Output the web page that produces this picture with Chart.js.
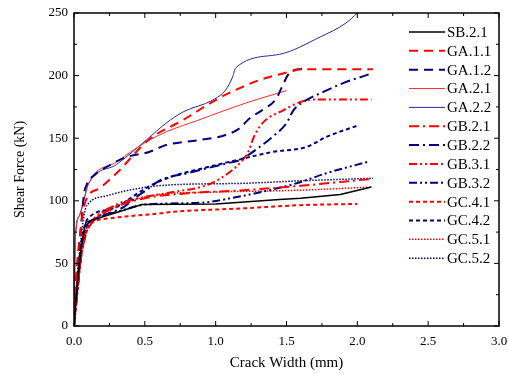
<!DOCTYPE html>
<html>
<head>
<meta charset="utf-8">
<script src="https://cdn.jsdelivr.net/npm/chart.js@4"></script>
<style>
  html, body { margin: 0; padding: 0; background: #fff; }
  #wrap { width: 508px; height: 374px; }
</style>
</head>
<body>
<div id="wrap"><canvas id="chart"></canvas></div>
<script>
// crack width (mm) vs shear force (kN)
const sb21 = [[0,0],[0.01,15],[0.03,40],[0.05,62],[0.07,76],[0.085,83],[0.48,97],[1.0,97.5],[1.45,101],[1.6,102],[1.88,105],[2.1,111]];
const ga11 = [[0,0],[0.01,30],[0.03,60],[0.05,80],[0.07,95],[0.1,104],[0.18,110],[0.3,122],[0.53,149],[0.77,164.5],[1.0,180.5],[1.17,190],[1.31,196.5],[1.52,203],[1.6,205],[2.11,205]];
const ga12 = [[0,0],[0.01,25],[0.03,55],[0.05,80],[0.07,105],[0.09,113],[0.15,121],[0.23,127],[0.37,135],[0.53,139],[0.65,144.5],[0.88,148.5],[1.07,152.5],[1.17,158],[1.24,166],[1.33,172.5],[1.43,182],[1.48,194],[1.52,202],[1.58,205],[1.65,205.5]];
const ga21 = [[0,0],[0.005,40],[0.01,70],[0.04,88],[0.07,100],[0.1,113],[0.3,131],[0.51,147],[0.65,155],[0.88,164.5],[1.21,178],[1.5,188]];
const ga22 = [[0,0],[0.005,42],[0.01,72],[0.04,89],[0.07,101],[0.1,113],[0.3,129],[0.51,148.5],[0.65,162],[0.77,171],[0.98,180.5],[1.07,188.5],[1.12,199],[1.14,206],[1.45,217],[1.74,231],[1.92,242],[2.0,250]];
const gb21 = [[0,0],[0.02,25],[0.05,55],[0.08,72],[0.1,78],[0.3,95],[0.5,102],[0.8,106],[1.2,108.5],[1.6,112],[2.1,117.5]];
const gb22 = [[0,0],[0.02,30],[0.05,60],[0.08,78],[0.1,82],[0.2,88],[0.35,95],[0.44,103],[0.51,108.5],[0.61,116.5],[0.8,122],[1.08,130],[1.17,132.5],[1.31,143],[1.4,151],[1.5,162],[1.55,172.5],[1.62,179],[1.76,187],[1.9,194],[2.08,201]];
const gb31 = [[0,0],[0.02,25],[0.05,58],[0.08,75],[0.1,80],[0.3,97],[0.5,103],[0.7,107],[0.95,113],[1.1,123],[1.17,130],[1.23,139],[1.27,151],[1.33,162],[1.48,172.5],[1.6,179],[1.71,181],[2.1,181]];
const gb32 = [[0,0],[0.02,22],[0.05,55],[0.08,72],[0.1,80],[0.3,91],[0.5,97],[0.9,98.5],[1.15,103],[1.38,108.5],[1.6,115],[1.78,122],[2.07,131]];
const gc41 = [[0,0],[0.02,25],[0.05,55],[0.08,75],[0.1,80],[0.15,84],[0.25,86],[0.61,90],[0.68,91],[1.2,94],[1.6,96.5],[2.0,97.5]];
const gc42 = [[0,0],[0.02,30],[0.05,65],[0.08,82],[0.1,86],[0.3,95],[0.45,106],[0.52,111],[0.68,119],[0.91,126],[1.15,132.5],[1.4,139],[1.64,143],[1.78,151],[2.0,160]];
const gc51 = [[0,0],[0.02,25],[0.05,55],[0.08,72],[0.1,78],[0.2,90],[0.4,100],[0.6,105],[1.0,107],[1.6,108.5],[2.1,111]];
const gc52 = [[0,0],[0.02,35],[0.05,70],[0.07,88],[0.09,96],[0.23,104],[0.41,109],[0.65,112.5],[1.21,114],[1.6,116],[2.11,118]];

const xTicks = [0, 0.5, 1.0, 1.5, 2.0, 2.5, 3.0];
const yTicks = [0, 50, 100, 150, 200, 250];

const RED = "#ff0000";
const NAVY = "#000080";
const serif = "'Liberation Serif', 'Times New Roman', serif";

function pts(arr) {
  return arr.map(function (p) { return { x: p[0], y: p[1] }; });
}

function series(label, data, color, width, dash, smooth) {
  return {
    label: label,
    data: pts(data),
    borderColor: color,
    backgroundColor: color,
    borderWidth: width,
    borderDash: dash,
    pointRadius: 0,
    fill: false,
    cubicInterpolationMode: smooth ? "monotone" : "default",
    tension: 0,
  };
}

const datasets = [
  series("SB.2.1", sb21, "#000000", 1.5, [], false),
  series("GA.1.1", ga11, RED, 2, [9, 6], true),
  series("GA.1.2", ga12, NAVY, 2, [9, 6], true),
  series("GA.2.1", ga21, "#ff2a2a", 1, [], true),
  series("GA.2.2", ga22, "#2626a6", 1, [], true),
  series("GB.2.1", gb21, RED, 2, [10, 4, 2, 4], true),
  series("GB.2.2", gb22, NAVY, 2, [10, 4, 2, 4], true),
  series("GB.3.1", gb31, RED, 2, [8, 3, 2, 3, 2, 3], true),
  series("GB.3.2", gb32, NAVY, 2, [8, 3, 2, 3, 2, 3], true),
  series("GC.4.1", gc41, RED, 2, [4, 3], true),
  series("GC.4.2", gc42, NAVY, 2, [4, 3], true),
  series("GC.5.1", gc51, RED, 1.5, [1.5, 1.5], true),
  series("GC.5.2", gc52, NAVY, 1.5, [1.5, 1.5], true),
];

// frame with inward ticks on all four sides + legend inside plot
const framePlugin = {
  id: "frame",
  afterDraw(chart) {
    const ctx = chart.ctx;
    const a = chart.chartArea;
    const xs = chart.scales.x, ys = chart.scales.y;
    ctx.save();
    ctx.setLineDash([]);
    ctx.strokeStyle = "#000";
    ctx.lineWidth = 1.5;
    ctx.strokeRect(a.left, a.top, a.right - a.left, a.bottom - a.top);
    ctx.lineWidth = 1;
    ctx.beginPath();
    for (let v = 0; v <= 3.0001; v += 0.25) {
      const px = xs.getPixelForValue(v);
      const len = Math.abs(v / 0.5 - Math.round(v / 0.5)) < 0.01 ? 5 : 3;
      ctx.moveTo(px, a.bottom); ctx.lineTo(px, a.bottom - len);
      ctx.moveTo(px, a.top); ctx.lineTo(px, a.top + len);
    }
    for (let v = 0; v <= 250; v += 25) {
      const py = ys.getPixelForValue(v);
      const len = v % 50 === 0 ? 5 : 3;
      ctx.moveTo(a.left, py); ctx.lineTo(a.left + len, py);
      ctx.moveTo(a.right, py); ctx.lineTo(a.right - len, py);
    }
    ctx.stroke();

    // legend
    ctx.font = "15px " + serif;
    ctx.textBaseline = "middle";
    ctx.fillStyle = "#000";
    chart.data.datasets.forEach(function (ds, i) {
      const y = 32 + i * 18.85;
      ctx.strokeStyle = ds.borderColor;
      ctx.lineWidth = ds.borderWidth;
      ctx.setLineDash(ds.borderDash);
      ctx.beginPath();
      ctx.moveTo(409, y);
      ctx.lineTo(445, y);
      ctx.stroke();
      ctx.setLineDash([]);
      ctx.fillText(ds.label, 447, y + 1);
    });
    ctx.restore();
  },
};

new Chart(document.getElementById("chart"), {
  type: "line",
  data: { datasets: datasets },
  options: {
    responsive: true,
    maintainAspectRatio: false,
    animation: false,
    layout: { padding: { top: 13, right: 0, left: 0, bottom: 0 } },
    plugins: { legend: { display: false }, tooltip: { enabled: false } },
    scales: {
      x: {
        type: "linear",
        min: 0,
        max: 3,
        afterBuildTicks(scale) {
          scale.ticks = xTicks.map(function (v) { return { value: v }; });
        },
        afterFit(scale) {
          scale.height = 48;
          scale.paddingLeft = 0;
          scale.paddingRight = 9;
        },
        grid: { display: false, drawTicks: false },
        border: { display: false },
        ticks: {
          color: "#000",
          font: { family: serif, size: 13 },
          padding: 8,
          maxRotation: 0,
          callback: function (v) { return Number(v).toFixed(1); },
        },
        title: {
          display: true,
          text: "Crack Width (mm)",
          color: "#000",
          font: { family: serif, size: 15 },
          padding: { top: 0, bottom: 2 },
        },
      },
      y: {
        type: "linear",
        min: 0,
        max: 250,
        afterBuildTicks(scale) {
          scale.ticks = yTicks.map(function (v) { return { value: v }; });
        },
        afterFit(scale) {
          scale.width = 74;
          scale.paddingTop = 0;
          scale.paddingBottom = 0;
        },
        grid: { display: false, drawTicks: false },
        border: { display: false },
        ticks: {
          color: "#000",
          font: { family: serif, size: 13 },
          padding: 6,
        },
        title: {
          display: true,
          text: "Shear Force (kN)",
          color: "#000",
          font: { family: serif, size: 14 },
          padding: { top: 12, bottom: 0 },
        },
      },
    },
  },
  plugins: [framePlugin],
});
</script>
</body>
</html>
